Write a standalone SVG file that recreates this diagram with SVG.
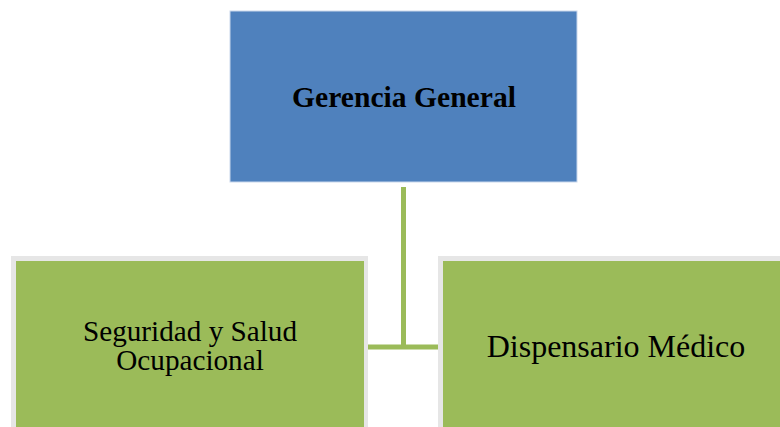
<svg xmlns="http://www.w3.org/2000/svg" width="780" height="427" viewBox="0 0 780 427">
<style>
.box2{fill:#9BBB59}
.shadow{fill:#E6E6E6}
.t{font-family:"Liberation Serif","Times New Roman",serif;fill:#000;text-anchor:middle}
.conn{stroke:#9BBB59;stroke-width:5;fill:none}
</style>
<rect width="780" height="427" fill="#fff"/>
<g id="connectors">
<path class="conn" d="M403.5 187 V347 M368 347 H438"/>
</g>
<g id="gerencia">
<rect x="230" y="11" width="347" height="171" fill="#4F81BD" stroke="#C9D7EC" stroke-width="1"/>
<text class="t" x="404" y="107" font-size="29.6" font-weight="bold">Gerencia General</text>
</g>
<g id="seguridad">
<rect class="shadow" x="11" y="256" width="357" height="180"/>
<rect class="box2" x="16" y="261" width="348" height="180"/>
<text class="t" x="190" y="341" font-size="29.2">Seguridad y Salud</text>
<text class="t" x="190" y="370" font-size="29.2">Ocupacional</text>
</g>
<g id="dispensario">
<rect class="shadow" x="438" y="256" width="357" height="180"/>
<rect class="box2" x="443" y="261" width="348" height="180"/>
<text class="t" x="616" y="357" font-size="32">Dispensario Médico</text>
</g>
</svg>
